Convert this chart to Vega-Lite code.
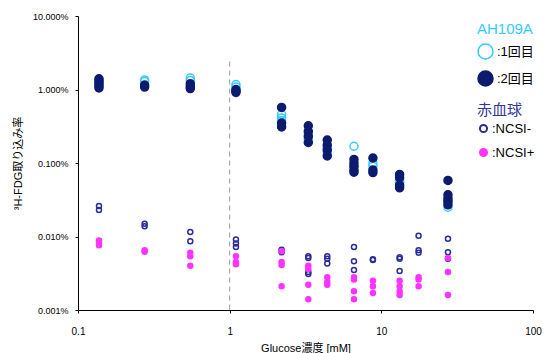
{
  "$schema": "https://vega.github.io/schema/vega-lite/v6.json",
  "width": 455,
  "height": 294,
  "autosize": {"type": "none"},
  "padding": {"left": 78, "top": 16, "right": 11, "bottom": 43},
  "background": "white",
  "config": {
    "view": {"stroke": null},
    "font": "Liberation Sans, Noto Sans CJK JP",
    "axis": {
      "grid": false,
      "domainColor": "#000000",
      "domainWidth": 1,
      "tickColor": "#000000",
      "labelColor": "#000000",
      "titleColor": "#000000",
      "titleFontWeight": "normal",
      "labelFlush": false,
      "labelOverlap": false
    },
    "legend": {"labelColor": "#000000", "titleFontWeight": "normal"}
  },
  "datasets": {
    "ah": [
      {"glucose": 0.1375, "uptake": 1.35, "run": ":1回目"},
      {"glucose": 0.1375, "uptake": 1.25, "run": ":1回目"},
      {"glucose": 0.275, "uptake": 1.35, "run": ":1回目"},
      {"glucose": 0.275, "uptake": 1.28, "run": ":1回目"},
      {"glucose": 0.55, "uptake": 1.43, "run": ":1回目"},
      {"glucose": 0.55, "uptake": 1.33, "run": ":1回目"},
      {"glucose": 1.1, "uptake": 1.17, "run": ":1回目"},
      {"glucose": 1.1, "uptake": 1.08, "run": ":1回目"},
      {"glucose": 2.2, "uptake": 0.46, "run": ":1回目"},
      {"glucose": 2.2, "uptake": 0.41, "run": ":1回目"},
      {"glucose": 2.2, "uptake": 0.38, "run": ":1回目"},
      {"glucose": 3.3, "uptake": 0.25, "run": ":1回目"},
      {"glucose": 3.3, "uptake": 0.21, "run": ":1回目"},
      {"glucose": 4.4, "uptake": 0.16, "run": ":1回目"},
      {"glucose": 4.4, "uptake": 0.14, "run": ":1回目"},
      {"glucose": 6.6, "uptake": 0.169, "run": ":1回目"},
      {"glucose": 6.6, "uptake": 0.09, "run": ":1回目"},
      {"glucose": 8.8, "uptake": 0.1, "run": ":1回目"},
      {"glucose": 8.8, "uptake": 0.09, "run": ":1回目"},
      {"glucose": 13.2, "uptake": 0.057, "run": ":1回目"},
      {"glucose": 13.2, "uptake": 0.054, "run": ":1回目"},
      {"glucose": 27.5, "uptake": 0.03, "run": ":1回目"},
      {"glucose": 27.5, "uptake": 0.025, "run": ":1回目"},
      {"glucose": 0.1375, "uptake": 1.4, "run": ":2回目"},
      {"glucose": 0.1375, "uptake": 1.3, "run": ":2回目"},
      {"glucose": 0.1375, "uptake": 1.2, "run": ":2回目"},
      {"glucose": 0.1375, "uptake": 1.12, "run": ":2回目"},
      {"glucose": 0.1375, "uptake": 1.05, "run": ":2回目"},
      {"glucose": 0.275, "uptake": 1.15, "run": ":2回目"},
      {"glucose": 0.275, "uptake": 1.08, "run": ":2回目"},
      {"glucose": 0.55, "uptake": 1.2, "run": ":2回目"},
      {"glucose": 0.55, "uptake": 1.1, "run": ":2回目"},
      {"glucose": 0.55, "uptake": 1.03, "run": ":2回目"},
      {"glucose": 1.1, "uptake": 1.0, "run": ":2回目"},
      {"glucose": 1.1, "uptake": 0.95, "run": ":2回目"},
      {"glucose": 1.1, "uptake": 0.91, "run": ":2回目"},
      {"glucose": 2.2, "uptake": 0.57, "run": ":2回目"},
      {"glucose": 2.2, "uptake": 0.35, "run": ":2回目"},
      {"glucose": 2.2, "uptake": 0.31, "run": ":2回目"},
      {"glucose": 3.3, "uptake": 0.32, "run": ":2回目"},
      {"glucose": 3.3, "uptake": 0.27, "run": ":2回目"},
      {"glucose": 3.3, "uptake": 0.23, "run": ":2回目"},
      {"glucose": 3.3, "uptake": 0.19, "run": ":2回目"},
      {"glucose": 4.4, "uptake": 0.205, "run": ":2回目"},
      {"glucose": 4.4, "uptake": 0.175, "run": ":2回目"},
      {"glucose": 4.4, "uptake": 0.15, "run": ":2回目"},
      {"glucose": 4.4, "uptake": 0.125, "run": ":2回目"},
      {"glucose": 6.6, "uptake": 0.112, "run": ":2回目"},
      {"glucose": 6.6, "uptake": 0.1, "run": ":2回目"},
      {"glucose": 6.6, "uptake": 0.09, "run": ":2回目"},
      {"glucose": 6.6, "uptake": 0.08, "run": ":2回目"},
      {"glucose": 6.6, "uptake": 0.075, "run": ":2回目"},
      {"glucose": 8.8, "uptake": 0.117, "run": ":2回目"},
      {"glucose": 8.8, "uptake": 0.08, "run": ":2回目"},
      {"glucose": 8.8, "uptake": 0.074, "run": ":2回目"},
      {"glucose": 13.2, "uptake": 0.07, "run": ":2回目"},
      {"glucose": 13.2, "uptake": 0.063, "run": ":2回目"},
      {"glucose": 13.2, "uptake": 0.05, "run": ":2回目"},
      {"glucose": 13.2, "uptake": 0.046, "run": ":2回目"},
      {"glucose": 27.5, "uptake": 0.058, "run": ":2回目"},
      {"glucose": 27.5, "uptake": 0.037, "run": ":2回目"},
      {"glucose": 27.5, "uptake": 0.033, "run": ":2回目"},
      {"glucose": 27.5, "uptake": 0.03, "run": ":2回目"},
      {"glucose": 27.5, "uptake": 0.027, "run": ":2回目"}
    ],
    "rbc": [
      {"glucose": 0.1375, "uptake": 0.026, "cell": ":NCSI-"},
      {"glucose": 0.1375, "uptake": 0.023, "cell": ":NCSI-"},
      {"glucose": 0.275, "uptake": 0.0149, "cell": ":NCSI-"},
      {"glucose": 0.275, "uptake": 0.0138, "cell": ":NCSI-"},
      {"glucose": 0.55, "uptake": 0.0115, "cell": ":NCSI-"},
      {"glucose": 0.55, "uptake": 0.0086, "cell": ":NCSI-"},
      {"glucose": 1.1, "uptake": 0.0091, "cell": ":NCSI-"},
      {"glucose": 1.1, "uptake": 0.008, "cell": ":NCSI-"},
      {"glucose": 1.1, "uptake": 0.0072, "cell": ":NCSI-"},
      {"glucose": 2.2, "uptake": 0.0066, "cell": ":NCSI-"},
      {"glucose": 2.2, "uptake": 0.0061, "cell": ":NCSI-"},
      {"glucose": 3.3, "uptake": 0.0054, "cell": ":NCSI-"},
      {"glucose": 3.3, "uptake": 0.0051, "cell": ":NCSI-"},
      {"glucose": 3.3, "uptake": 0.0033, "cell": ":NCSI-"},
      {"glucose": 3.3, "uptake": 0.0031, "cell": ":NCSI-"},
      {"glucose": 4.4, "uptake": 0.0054, "cell": ":NCSI-"},
      {"glucose": 4.4, "uptake": 0.005, "cell": ":NCSI-"},
      {"glucose": 4.4, "uptake": 0.0043, "cell": ":NCSI-"},
      {"glucose": 6.6, "uptake": 0.0072, "cell": ":NCSI-"},
      {"glucose": 6.6, "uptake": 0.0046, "cell": ":NCSI-"},
      {"glucose": 6.6, "uptake": 0.0035, "cell": ":NCSI-"},
      {"glucose": 8.8, "uptake": 0.0049, "cell": ":NCSI-"},
      {"glucose": 8.8, "uptake": 0.0048, "cell": ":NCSI-"},
      {"glucose": 13.2, "uptake": 0.0052, "cell": ":NCSI-"},
      {"glucose": 13.2, "uptake": 0.005, "cell": ":NCSI-"},
      {"glucose": 13.2, "uptake": 0.0034, "cell": ":NCSI-"},
      {"glucose": 17.6, "uptake": 0.0102, "cell": ":NCSI-"},
      {"glucose": 17.6, "uptake": 0.0065, "cell": ":NCSI-"},
      {"glucose": 17.6, "uptake": 0.006, "cell": ":NCSI-"},
      {"glucose": 27.5, "uptake": 0.0093, "cell": ":NCSI-"},
      {"glucose": 27.5, "uptake": 0.0061, "cell": ":NCSI-"},
      {"glucose": 27.5, "uptake": 0.005, "cell": ":NCSI-"},
      {"glucose": 0.1375, "uptake": 0.0088, "cell": ":NCSI+"},
      {"glucose": 0.1375, "uptake": 0.0082, "cell": ":NCSI+"},
      {"glucose": 0.1375, "uptake": 0.0076, "cell": ":NCSI+"},
      {"glucose": 0.275, "uptake": 0.0065, "cell": ":NCSI+"},
      {"glucose": 0.275, "uptake": 0.0062, "cell": ":NCSI+"},
      {"glucose": 0.55, "uptake": 0.006, "cell": ":NCSI+"},
      {"glucose": 0.55, "uptake": 0.0054, "cell": ":NCSI+"},
      {"glucose": 0.55, "uptake": 0.004, "cell": ":NCSI+"},
      {"glucose": 1.1, "uptake": 0.0054, "cell": ":NCSI+"},
      {"glucose": 1.1, "uptake": 0.0045, "cell": ":NCSI+"},
      {"glucose": 1.1, "uptake": 0.0042, "cell": ":NCSI+"},
      {"glucose": 2.2, "uptake": 0.0063, "cell": ":NCSI+"},
      {"glucose": 2.2, "uptake": 0.0045, "cell": ":NCSI+"},
      {"glucose": 2.2, "uptake": 0.0041, "cell": ":NCSI+"},
      {"glucose": 2.2, "uptake": 0.0021, "cell": ":NCSI+"},
      {"glucose": 3.3, "uptake": 0.004, "cell": ":NCSI+"},
      {"glucose": 3.3, "uptake": 0.0036, "cell": ":NCSI+"},
      {"glucose": 3.3, "uptake": 0.0022, "cell": ":NCSI+"},
      {"glucose": 3.3, "uptake": 0.0014, "cell": ":NCSI+"},
      {"glucose": 4.4, "uptake": 0.0028, "cell": ":NCSI+"},
      {"glucose": 4.4, "uptake": 0.0024, "cell": ":NCSI+"},
      {"glucose": 4.4, "uptake": 0.0022, "cell": ":NCSI+"},
      {"glucose": 6.6, "uptake": 0.0028, "cell": ":NCSI+"},
      {"glucose": 6.6, "uptake": 0.0026, "cell": ":NCSI+"},
      {"glucose": 6.6, "uptake": 0.0018, "cell": ":NCSI+"},
      {"glucose": 6.6, "uptake": 0.0014, "cell": ":NCSI+"},
      {"glucose": 8.8, "uptake": 0.0025, "cell": ":NCSI+"},
      {"glucose": 8.8, "uptake": 0.0021, "cell": ":NCSI+"},
      {"glucose": 8.8, "uptake": 0.0017, "cell": ":NCSI+"},
      {"glucose": 13.2, "uptake": 0.0025, "cell": ":NCSI+"},
      {"glucose": 13.2, "uptake": 0.0021, "cell": ":NCSI+"},
      {"glucose": 13.2, "uptake": 0.0018, "cell": ":NCSI+"},
      {"glucose": 13.2, "uptake": 0.0016, "cell": ":NCSI+"},
      {"glucose": 17.6, "uptake": 0.0028, "cell": ":NCSI+"},
      {"glucose": 17.6, "uptake": 0.0026, "cell": ":NCSI+"},
      {"glucose": 17.6, "uptake": 0.0021, "cell": ":NCSI+"},
      {"glucose": 27.5, "uptake": 0.0051, "cell": ":NCSI+"},
      {"glucose": 27.5, "uptake": 0.0033, "cell": ":NCSI+"},
      {"glucose": 27.5, "uptake": 0.0016, "cell": ":NCSI+"}
    ],
    "line": [{"glucose": 1, "uptake": 2.4, "uptake2": 0.001}]
  },
  "encoding": {
    "x": {
      "field": "glucose",
      "type": "quantitative",
      "scale": {"type": "log", "domain": [0.1, 100], "nice": false},
      "axis": {
        "title": "Glucose濃度 [mM]",
        "values": [0.1, 1, 10, 100],
        "format": "~g",
        "labelFontSize": 10,
        "titleFontSize": 11,
        "tickSize": 3,
        "labelPadding": 13,
        "titlePadding": 6
      }
    },
    "y": {
      "field": "uptake",
      "type": "quantitative",
      "scale": {"type": "log", "domain": [0.001, 10], "nice": false},
      "axis": {
        "title": "³H-FDG取り込み率",
        "values": [0.001, 0.01, 0.1, 1, 10],
        "labelExpr": "format(datum.value, '.3f') + '%'",
        "labelFontSize": 9,
        "titleFontSize": 11,
        "tickSize": 3,
        "labelPadding": 7,
        "titleX": -60,
        "titleBaseline": "middle"
      }
    }
  },
  "layer": [
    {
      "data": {"name": "line"},
      "mark": {"type": "rule", "color": "#999999", "strokeWidth": 1, "strokeDash": [5, 4]},
      "encoding": {"y2": {"field": "uptake2"}}
    },
    {
      "data": {"name": "ah"},
      "mark": {"type": "point", "shape": "circle", "size": 64, "strokeWidth": 1.5, "opacity": 1},
      "encoding": {
        "stroke": {
          "field": "run",
          "type": "nominal",
          "scale": {"domain": [":1回目", ":2回目"], "range": ["#33CCFF", "#0D1B6E"]},
          "legend": {"title": "AH109A", "titleColor": "#33CCFF", "titleFontSize": 15, "labelFontSize": 13, "orient": "none", "legendX": 399, "legendY": 6, "symbolSize": 225, "symbolStrokeWidth": 1.5, "rowPadding": 6, "titlePadding": 6, "labelOffset": 3}
        },
        "fill": {
          "field": "run",
          "type": "nominal",
          "scale": {"domain": [":1回目", ":2回目"], "range": ["transparent", "#0D1B6E"]},
          "legend": {"title": "AH109A", "titleColor": "#33CCFF", "titleFontSize": 15, "labelFontSize": 13, "orient": "none", "legendX": 399, "legendY": 6, "symbolSize": 225, "symbolStrokeWidth": 1.5, "rowPadding": 6, "titlePadding": 6, "labelOffset": 3}
        }
      }
    },
    {
      "data": {"name": "rbc"},
      "mark": {"type": "point", "shape": "circle", "size": 25, "strokeWidth": 1.5, "opacity": 1},
      "encoding": {
        "stroke": {
          "field": "cell",
          "type": "nominal",
          "scale": {"domain": [":NCSI-", ":NCSI+"], "range": ["#2B2B99", "#FF33FF"]},
          "legend": {"title": "赤血球", "titleColor": "#333399", "titleFontSize": 15, "labelFontSize": 13, "orient": "none", "legendX": 399, "legendY": 87, "symbolSize": 50, "symbolStrokeWidth": 2, "rowPadding": 7, "titlePadding": 4, "labelOffset": 2}
        },
        "fill": {
          "field": "cell",
          "type": "nominal",
          "scale": {"domain": [":NCSI-", ":NCSI+"], "range": ["transparent", "#FF33FF"]},
          "legend": {"title": "赤血球", "titleColor": "#333399", "titleFontSize": 15, "labelFontSize": 13, "orient": "none", "legendX": 399, "legendY": 87, "symbolSize": 50, "symbolStrokeWidth": 2, "rowPadding": 7, "titlePadding": 4, "labelOffset": 2}
        }
      }
    }
  ],
  "resolve": {"scale": {"stroke": "independent", "fill": "independent"}}
}
